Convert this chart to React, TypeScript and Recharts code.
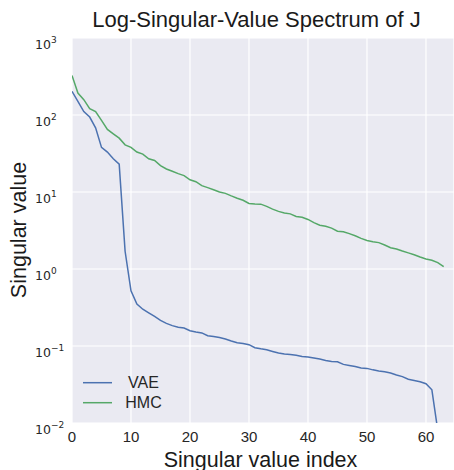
import React from "react";
import { LineChart, Line, XAxis, YAxis, CartesianGrid, Legend } from "recharts";

const hmcValues = [
  327, 193, 158, 121, 111, 85, 65, 57, 50, 41, 38, 33, 31, 27, 25.7, 22, 19.9, 18.6, 17.3, 16.3,
  14.4, 13.6, 12.1, 11.4, 10.7, 10.0, 9.6, 8.9, 8.3, 7.8, 7.1, 7.0, 6.95, 6.5, 6.0, 5.6, 5.35, 5.2,
  4.8, 4.7, 4.4, 4.0, 3.7, 3.6, 3.4, 3.1, 3.05, 2.88, 2.7, 2.5, 2.35, 2.26, 2.2, 2.05, 1.89, 1.82,
  1.71, 1.62, 1.53, 1.43, 1.35, 1.3, 1.21, 1.07,
];

const vaeValues = [
  203, 150, 111, 94, 68, 38, 33, 27, 23, 1.7, 0.52, 0.35, 0.3, 0.27, 0.243, 0.215, 0.197, 0.184,
  0.175, 0.171, 0.158, 0.152, 0.148, 0.136, 0.133, 0.129, 0.123, 0.116, 0.11, 0.108, 0.104, 0.095,
  0.092, 0.0895, 0.085, 0.081, 0.079, 0.0776, 0.076, 0.073, 0.072, 0.07, 0.0677, 0.065, 0.063,
  0.0625, 0.0577, 0.056, 0.0543, 0.0518, 0.0512, 0.049, 0.0473, 0.0463, 0.0446, 0.042, 0.04, 0.037,
  0.0357, 0.0344, 0.0324, 0.027, 0.008, 0.002,
];

const indices = vaeValues.map((_, i) => i);

const xTicks = [0, 10, 20, 30, 40, 50, 60];
const yTicks = [0.01, 0.1, 1, 10, 100, 1000];
const yTickExponents = ["\u22122", "\u22121", "0", "1", "2", "3"];

const seriesNames = ["VAE", "HMC"];
const seriesColors = ["#4C72B0", "#55A868"];

const data = indices.map((i) => ({ idx: i, vae: vaeValues[i], hmc: hmcValues[i] }));

const SANS = "'Liberation Sans', Arial, Helvetica, sans-serif";
const TEXT = "#262626";

const XTick = (props: any) => {
  const { x, payload } = props;
  return (
    <text x={x} y={442} textAnchor="middle" fontFamily={SANS} fontSize={15} fill={TEXT}>
      {payload.value}
    </text>
  );
};

const YTick = (props: any) => {
  const { y, index } = props;
  return (
    <text x={35} y={y + 11.4} fontFamily="'DejaVu Sans', sans-serif" fontSize={12.5} fill={TEXT}>
      10
      <tspan dy={-6.7} fontSize={9}>
        {yTickExponents[index]}
      </tspan>
    </text>
  );
};

const renderLegend = () => {
  return (
    <svg width={110} height={45} style={{ display: "block" }}>
      {seriesNames.map((name, i) => (
        <g key={name}>
          <line x1={3} x2={32} y1={12.7 + i * 20} y2={12.7 + i * 20} stroke={seriesColors[i]} strokeWidth={1.5} />
          <text x={63.5} y={18.3 + i * 20} textAnchor="middle" fontFamily={SANS} fontSize={16} fill={TEXT}>
            {name}
          </text>
        </g>
      ))}
    </svg>
  );
};

export default function App() {
  return (
    <div style={{ position: "absolute", left: 0, top: 0, width: 454, height: 470, background: "#fff" }}>
      <LineChart width={454} height={470} data={data} margin={{ top: 38, right: 0, bottom: 0, left: 0 }}>
        <CartesianGrid fill="#EAEAF2" fillOpacity={1} stroke="#ffffff" strokeWidth={1.2} />
        <XAxis
          dataKey="idx"
          type="number"
          domain={[0, 64.75]}
          ticks={xTicks}
          allowDataOverflow
          axisLine={false}
          tickLine={false}
          height={47}
          tick={<XTick />}
          interval={0}
        />
        <YAxis
          type="number"
          scale="log"
          domain={[0.01, 1000]}
          ticks={yTicks}
          allowDataOverflow
          axisLine={false}
          tickLine={false}
          width={72}
          tick={<YTick />}
          interval={0}
        />
        <Legend
          layout="horizontal"
          verticalAlign="middle"
          align="center"
          content={renderLegend}
          wrapperStyle={{ position: "absolute", left: 80, top: 370, width: 110, height: 45 }}
        />
        <Line
          type="linear"
          dataKey="vae"
          name={seriesNames[0]}
          stroke={seriesColors[0]}
          strokeWidth={1.5}
          dot={false}
          isAnimationActive={false}
        />
        <Line
          type="linear"
          dataKey="hmc"
          name={seriesNames[1]}
          stroke={seriesColors[1]}
          strokeWidth={1.5}
          dot={false}
          isAnimationActive={false}
        />
      </LineChart>
      <svg
        width={454}
        height={470}
        style={{ position: "absolute", left: 0, top: 0, pointerEvents: "none" }}
      >
        <text x={256.5} y={27} textAnchor="middle" fontFamily={SANS} fontSize={22} fill="#1a1a1a">
          Log-Singular-Value Spectrum of J
        </text>
        <text x={260.5} y={466.5} textAnchor="middle" fontFamily={SANS} fontSize={21.5} fill="#1a1a1a">
          Singular value index
        </text>
        <text
          transform="translate(26, 230) rotate(-90)"
          textAnchor="middle"
          fontFamily={SANS}
          fontSize={21.5}
          fill="#1a1a1a"
        >
          Singular value
        </text>
      </svg>
    </div>
  );
}
